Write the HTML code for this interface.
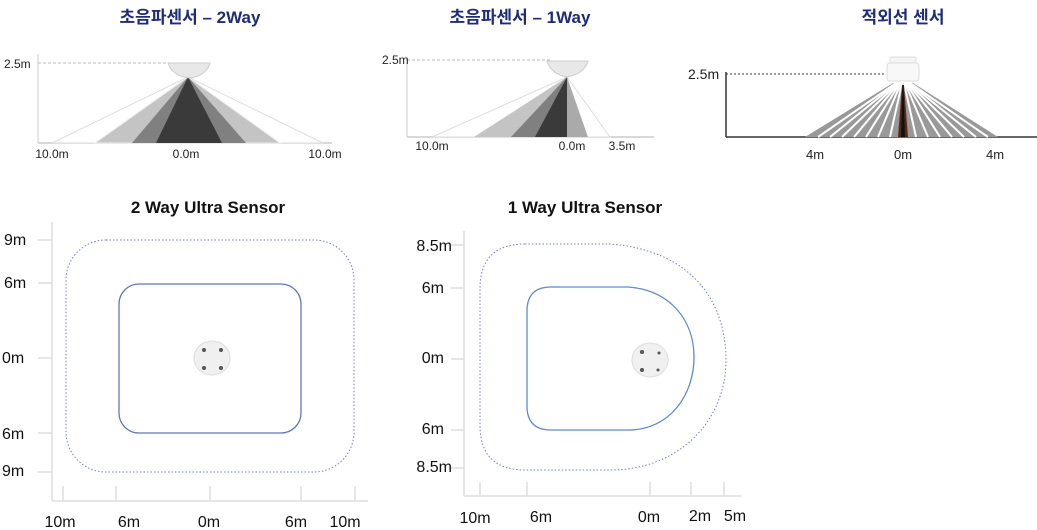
<!DOCTYPE html>
<html><head><meta charset="utf-8"><style>
body{margin:0;background:#fff;}
svg{display:block;font-family:"Liberation Sans","Noto Sans CJK KR",sans-serif;}
.t{font-weight:bold;fill:#1f2d78;font-size:17px;text-anchor:middle;}
.h{font-weight:bold;fill:#111;font-size:17px;text-anchor:middle;}
.s{font-size:12px;fill:#222;}
.l{font-size:16px;fill:#111;}
</style></head><body>
<svg width="1037" height="530" viewBox="0 0 1037 530">
<!-- titles -->
<text class="t" x="190" y="23">초음파센서 – 2Way</text>
<text class="t" x="520" y="23">초음파센서 – 1Way</text>
<text class="t" x="903" y="23">적외선 센서</text>

<!-- top-left -->
<line x1="38" y1="54" x2="38" y2="143" stroke="#ccc"/>
<line x1="38" y1="143" x2="332" y2="143" stroke="#ccc" stroke-width="1.5"/>
<line x1="38" y1="63" x2="170" y2="63" stroke="#bbb" stroke-dasharray="3,2"/>
<polygon points="188,77 52,143 323,143" fill="#fff" stroke="#ddd"/>
<polygon points="188,77 95,143 280,143" fill="#c4c4c4" stroke="#eee"/>
<polygon points="188,77 132,143 246,143" fill="#808080"/>
<polygon points="188,77 156,143 222,143" fill="#3a3a3a"/>
<path d="M168,63 L210,63 Q206,76 190,78 Q172,76 168,63Z" fill="#e8e8e8" stroke="#ccc"/>
<text class="s" x="4" y="68">2.5m</text>
<text class="s" x="52" y="158" text-anchor="middle">10.0m</text>
<text class="s" x="186" y="158" text-anchor="middle">0.0m</text>
<text class="s" x="325" y="158" text-anchor="middle">10.0m</text>

<!-- top-middle -->
<line x1="407" y1="57" x2="407" y2="137" stroke="#ccc"/>
<line x1="407" y1="137" x2="654" y2="137" stroke="#ccc" stroke-width="1.5"/>
<line x1="407" y1="60" x2="550" y2="60" stroke="#bbb" stroke-dasharray="3,2"/>
<polygon points="567,77 432,137 610,137" fill="#fff" stroke="#ddd"/>
<polygon points="567,77 474,137 567,137" fill="#c4c4c4"/>
<polygon points="567,77 511,137 567,137" fill="#808080"/>
<polygon points="567,77 535,137 567,137" fill="#3a3a3a"/>
<polygon points="567,77 567,137 588,137" fill="#aaa"/>
<path d="M547,61 L588,61 Q584,74 567,77 Q551,74 547,61Z" fill="#e8e8e8" stroke="#ccc"/>
<text class="s" x="382" y="64">2.5m</text>
<text class="s" x="432" y="150" text-anchor="middle">10.0m</text>
<text class="s" x="572" y="150" text-anchor="middle">0.0m</text>
<text class="s" x="622" y="150" text-anchor="middle">3.5m</text>

<!-- top-right -->
<line x1="726" y1="72" x2="726" y2="137" stroke="#333" stroke-width="1.5"/>
<line x1="726" y1="137" x2="1037" y2="137" stroke="#333" stroke-width="1.5"/>
<line x1="726" y1="74" x2="884" y2="74" stroke="#333" stroke-dasharray="2,2"/>
<polygon points="893,83 913,83 998,137 805,137" fill="#999"/>
<g stroke="#fff" stroke-width="2">
<line x1="896" y1="83" x2="818" y2="137"/><line x1="897" y1="83" x2="830" y2="137"/>
<line x1="898" y1="83" x2="842" y2="137"/><line x1="899" y1="83" x2="854" y2="137"/>
<line x1="900" y1="83" x2="866" y2="137"/><line x1="901" y1="83" x2="878" y2="137"/>
<line x1="902" y1="83" x2="890" y2="137"/>
<line x1="904" y1="83" x2="916" y2="137"/><line x1="905" y1="83" x2="928" y2="137"/>
<line x1="906" y1="83" x2="940" y2="137"/><line x1="907" y1="83" x2="952" y2="137"/>
<line x1="908" y1="83" x2="964" y2="137"/><line x1="909" y1="83" x2="976" y2="137"/>
<line x1="910" y1="83" x2="988" y2="137"/>
</g>
<polygon points="902,85 904,85 908,137 898,137" fill="#5a2a18"/>
<polygon points="902.5,85 903.5,85 905,137 901,137" fill="#111"/>
<rect x="890" y="57" width="26" height="7" rx="2" fill="#f4f4f4" stroke="#ddd"/>
<rect x="887" y="63" width="32" height="18" rx="3" fill="#f8f8f8" stroke="#ddd"/>
<text x="688" y="79" font-size="14" fill="#222">2.5m</text>
<text x="815" y="159" font-size="13" fill="#222" text-anchor="middle">4m</text>
<text x="903" y="159" font-size="13" fill="#222" text-anchor="middle">0m</text>
<text x="995" y="159" font-size="13" fill="#222" text-anchor="middle">4m</text>

<!-- bottom-left -->
<text class="h" x="208" y="213">2 Way Ultra Sensor</text>
<g stroke="#ddd" stroke-width="1.5">
<line x1="52" y1="222" x2="52" y2="501"/><line x1="52" y1="501" x2="368" y2="501"/>
<line x1="38" y1="240" x2="52" y2="240"/><line x1="38" y1="283" x2="52" y2="283"/>
<line x1="38" y1="358" x2="52" y2="358"/><line x1="38" y1="433" x2="52" y2="433"/>
<line x1="38" y1="472" x2="52" y2="472"/>
<line x1="63" y1="486" x2="63" y2="501"/><line x1="116" y1="486" x2="116" y2="501"/>
<line x1="210" y1="486" x2="210" y2="501"/><line x1="301" y1="486" x2="301" y2="501"/>
<line x1="355" y1="486" x2="355" y2="501"/>
</g>
<rect x="66" y="240" width="288" height="232" rx="40" fill="none" stroke="#6f80c8" stroke-dasharray="1.5,2"/>
<rect x="119" y="284" width="182" height="149" rx="20" fill="none" stroke="#5f78b8" stroke-width="1.3"/>
<ellipse cx="212" cy="358" rx="18" ry="17" fill="#f0f0f0" stroke="#ddd"/>
<g fill="#555"><circle cx="204" cy="350" r="2"/><circle cx="221" cy="350" r="2"/><circle cx="204" cy="368" r="2"/><circle cx="221" cy="368" r="2"/></g>
<g class="l">
<text x="4" y="245">9m</text><text x="4" y="288">6m</text><text x="2" y="363">0m</text>
<text x="2" y="439">6m</text><text x="2" y="476">9m</text>
<text x="60" y="527" text-anchor="middle">10m</text><text x="129" y="527" text-anchor="middle">6m</text>
<text x="209" y="527" text-anchor="middle">0m</text><text x="296" y="527" text-anchor="middle">6m</text>
<text x="345" y="527" text-anchor="middle">10m</text>
</g>

<!-- bottom-right -->
<text class="h" x="585" y="213">1 Way Ultra Sensor</text>
<g stroke="#ddd" stroke-width="1.5">
<line x1="464" y1="231" x2="464" y2="496"/><line x1="464" y1="496" x2="741" y2="496"/>
<line x1="451" y1="245" x2="464" y2="245"/><line x1="451" y1="288" x2="464" y2="288"/>
<line x1="451" y1="359" x2="464" y2="359"/><line x1="451" y1="430" x2="464" y2="430"/>
<line x1="451" y1="468" x2="464" y2="468"/>
<line x1="480" y1="482" x2="480" y2="496"/><line x1="527" y1="482" x2="527" y2="496"/>
<line x1="650" y1="482" x2="650" y2="496"/><line x1="691" y1="482" x2="691" y2="496"/>
<line x1="724" y1="482" x2="724" y2="496"/>
</g>
<path d="M525,244 L610,244 C690,250 726,300 726,360 C726,420 680,470 610,470 L525,470 Q480,470 480,425 L480,289 Q480,244 525,244Z" fill="none" stroke="#6f80c8" stroke-dasharray="1.5,2"/>
<path d="M551,287 L628,287 C670,290 694,320 694,357 C694,395 670,430 628,430 L551,430 Q527,430 527,406 L527,311 Q527,287 551,287Z" fill="none" stroke="#5f8bd0" stroke-width="1.3"/>
<ellipse cx="650" cy="360" rx="18" ry="17" fill="#f0f0f0" stroke="#ddd"/>
<g fill="#555"><circle cx="642" cy="352" r="2"/><circle cx="659" cy="353" r="1.5"/><circle cx="642" cy="370" r="2"/><circle cx="658" cy="370" r="1.5"/></g>
<g class="l">
<text x="452" y="251" text-anchor="end">8.5m</text><text x="444" y="293" text-anchor="end">6m</text>
<text x="444" y="363" text-anchor="end">0m</text><text x="444" y="434" text-anchor="end">6m</text>
<text x="452" y="472" text-anchor="end">8.5m</text>
<text x="475" y="523" text-anchor="middle">10m</text><text x="541" y="522" text-anchor="middle">6m</text>
<text x="649" y="522" text-anchor="middle">0m</text><text x="700" y="521" text-anchor="middle">2m</text>
<text x="735" y="521" text-anchor="middle">5m</text>
</g>
</svg>
</body></html>
